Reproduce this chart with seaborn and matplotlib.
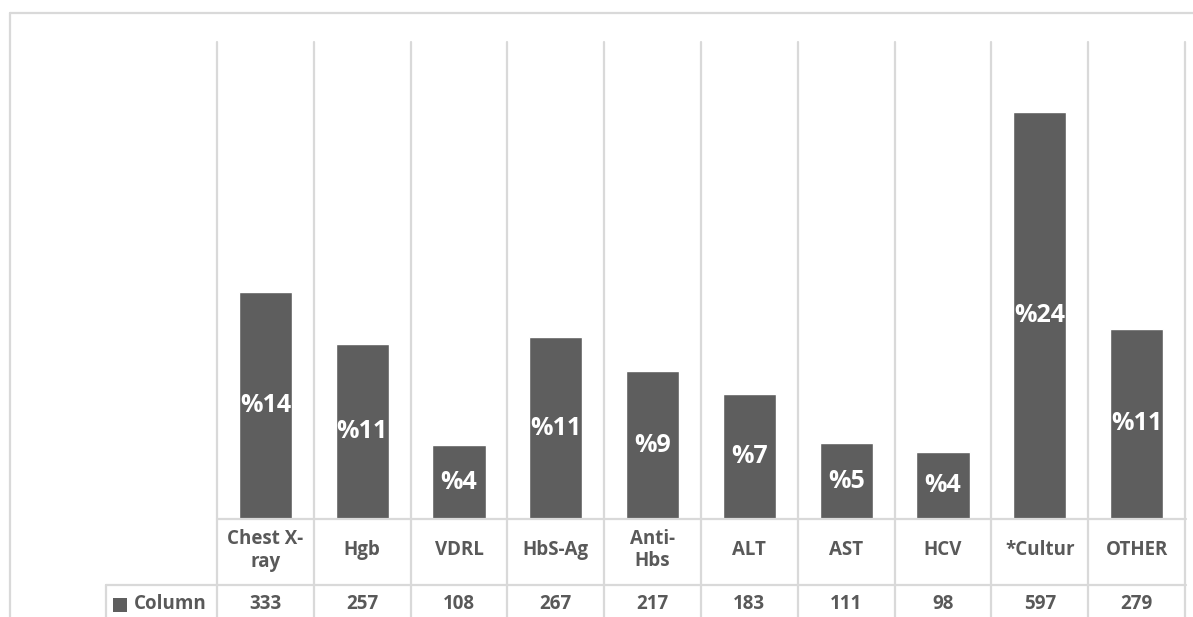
import matplotlib
matplotlib.use("Agg")
import matplotlib.pyplot as plt
import matplotlib.transforms as mtransforms
from matplotlib.lines import Line2D
from matplotlib.patches import Rectangle
import seaborn as sns
import pandas as pd

categories = ["Chest X-\nray", "Hgb", "VDRL", "HbS-Ag", "Anti-\nHbs", "ALT", "AST", "HCV", "*Cultur", "OTHER"]
values = [333, 257, 108, 267, 217, 183, 111, 98, 597, 279]
pct_labels = ["%14", "%11", "%4", "%11", "%9", "%7", "%5", "%4", "%24", "%11"]
series_name = "Column"

sns.set_theme(style="white")
plt.rcParams["font.family"] = ["Open Sans", "DejaVu Sans"]

BAR = "#5E5E5E"
TXT = "#595959"
GRID = "#D9D9D9"

W, H = 1193, 617
fig = plt.figure(figsize=(W / 100, H / 100), dpi=100)
ax = fig.add_axes([217 / W, 1 - 519 / H, (1185 - 217) / W, (519 - 42) / H])
ax.patch.set_visible(False)

df = pd.DataFrame({"cat": categories, "val": values})
sns.barplot(data=df, x="cat", y="val", color=BAR, width=0.55, saturation=1, ax=ax)
ax.set_xlim(-0.5, len(categories) - 0.5)
ax.set_ylim(0, 700)
ax.set_xticks([]); ax.set_yticks([])
ax.set_xlabel(""); ax.set_ylabel("")
for s in ax.spines.values():
    s.set_visible(False)

# percent labels inside bars
for i, (v, lab) in enumerate(zip(values, pct_labels)):
    ax.text(i, v / 2, lab, ha="center", va="center", color="white",
            fontsize=18, fontweight="bold")

def fy(px):
    return 1 - px / H

def fx(px):
    return px / W

bt = mtransforms.blended_transform_factory(ax.transData, fig.transFigure)

# vertical gridlines (category boundaries), through table
n = len(categories)
for k in range(n + 1):
    x = k - 0.5
    fig.add_artist(Line2D([x, x], [fy(42), fy(640)], transform=bt, color=GRID, lw=1.6, zorder=-1))

# table horizontal lines
fig.add_artist(Line2D([fx(217), fx(1186)], [fy(519), fy(519)], transform=fig.transFigure, color=GRID, lw=1.6))
fig.add_artist(Line2D([fx(106), fx(1186)], [fy(585), fy(585)], transform=fig.transFigure, color=GRID, lw=1.6))
fig.add_artist(Line2D([fx(106), fx(106)], [fy(585), fy(640)], transform=fig.transFigure, color=GRID, lw=1.6))

# outer chart border
fig.add_artist(Line2D([fx(10), fx(1300)], [fy(13), fy(13)], transform=fig.transFigure, color=GRID, lw=1.6))
fig.add_artist(Line2D([fx(10), fx(10)], [fy(13), fy(640)], transform=fig.transFigure, color=GRID, lw=1.6))

# category labels & values
for i, (c, v) in enumerate(zip(categories, values)):
    fig.text(0, 0, c, transform=bt, ha="center", va="center", color=TXT,
             fontsize=13.5, fontweight="bold", linespacing=1.2).set_position((i, fy(550)))
    fig.text(0, 0, str(v), transform=bt, ha="center", va="center", color=TXT,
             fontsize=13.5, fontweight="bold").set_position((i, fy(604)))

# legend key in table
fig.add_artist(Rectangle((fx(113), fy(612)), fx(14), 14 / H, transform=fig.transFigure,
                         facecolor=BAR, edgecolor="none"))
fig.text(fx(134), fy(604), series_name, ha="left", va="center", color=TXT,
         fontsize=13.5, fontweight="bold")

fig.savefig("out.png", dpi=100, facecolor="white")
